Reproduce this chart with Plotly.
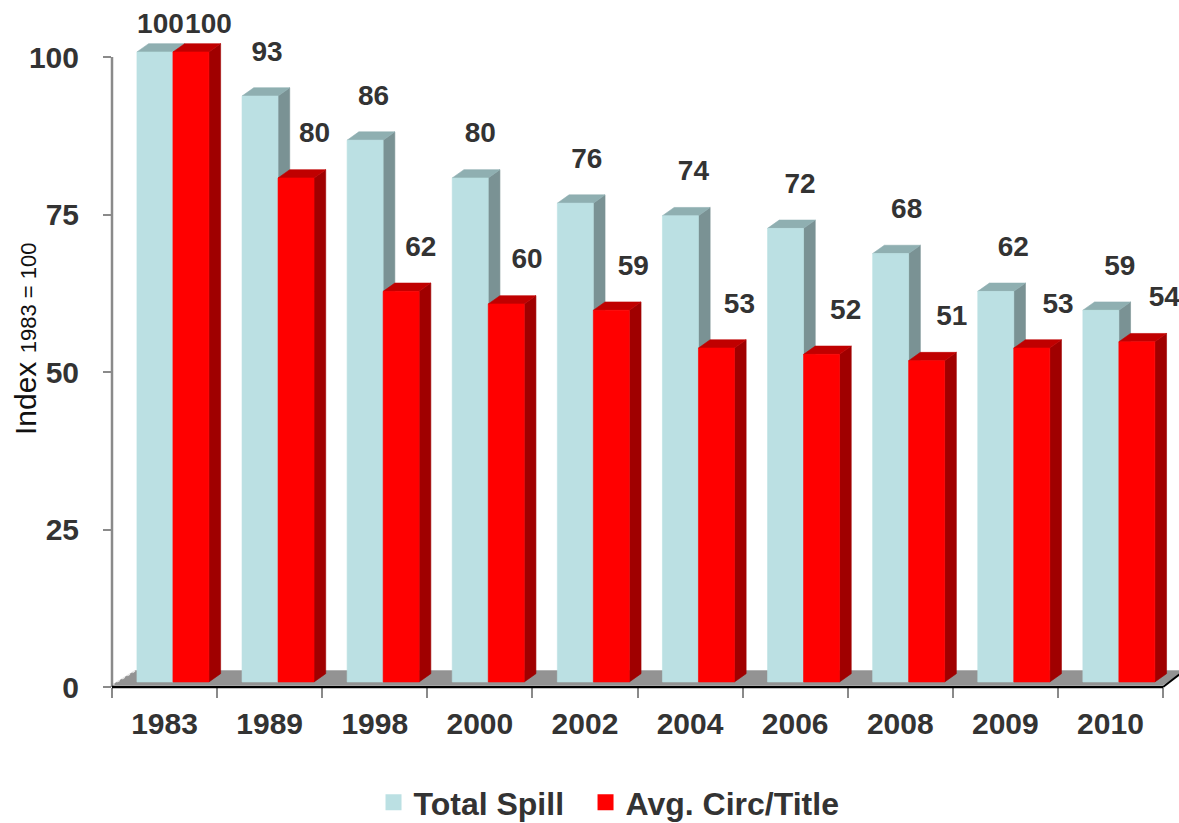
import plotly.graph_objects as go

# ---- data -------------------------------------------------------------
years = ["1983", "1989", "1998", "2000", "2002", "2004", "2006", "2008", "2009", "2010"]
total_spill = [100, 93, 86, 80, 76, 74, 72, 68, 62, 59]
avg_circ_title = [100, 80, 62, 60, 59, 53, 52, 51, 53, 54]
series_names = ["Total Spill", "Avg. Circ/Title"]
y_tick_values = [0, 25, 50, 75, 100]

# ---- styling / geometry ----------------------------------------------
FONT = "Liberation Sans, Arial, sans-serif"
TEXT_COLOR = "#333333"
AXIS_GRAY = "#8a8a8a"

# colours per series: front, top, side
PALETTE = [
    ("#bbe0e3", "#8fafb1", "#7a9294"),
    ("#ff0000", "#c00000", "#a00000"),
]

X_RANGE = [-0.5, 9.652]     # category units (1 unit = one year slot)
Y_RANGE = [0, 107.46]       # index units
BAR_W = 0.3425              # front-face width of each column
SERIES_OFFSET = [-0.0915, 0.251]
DEPTH_X, DEPTH_Y = 0.1113, 1.317   # oblique depth of a column
BASE = 0.8                  # front face sits a little behind the floor edge
FLOOR_DX, FLOOR_DY = 0.223, 2.3
FLOOR_FRONT = 0.3
LABEL_LIFT = 6.75
LABEL_CAP = 104.95
# label drift along the floor (perspective), per series: start, step
LABEL_SHIFT = [(0.0523, 0.01427), (0.1665, 0.01047)]
# legend entries sit side by side under the axis
LEGEND_X = [0.2451, 0.4438]
LEGEND_Y = -0.1705

series_values = [total_spill, avg_circ_title]
n = len(years)


def px(x):
    return (x - X_RANGE[0]) / (X_RANGE[1] - X_RANGE[0])


def py(y):
    return (y - Y_RANGE[0]) / (Y_RANGE[1] - Y_RANGE[0])


def polys(rects):
    xs, ys = [], []
    for pts in rects:
        for (a, b) in pts:
            xs.append(a)
            ys.append(b)
        xs.append(pts[0][0])
        ys.append(pts[0][1])
        xs.append(None)
        ys.append(None)
    return xs, ys


fig = go.Figure()

# floor slab
floor_pts = [
    (X_RANGE[0], FLOOR_FRONT),
    (n - 0.5, FLOOR_FRONT),
    (n - 0.5 + FLOOR_DX, FLOOR_FRONT + FLOOR_DY),
    (X_RANGE[0] + FLOOR_DX, FLOOR_FRONT + FLOOR_DY),
]
fx, fy = polys([floor_pts])
fig.add_trace(go.Scatter(x=fx, y=fy, fill="toself", mode="lines",
                         fillcolor="#939393", line=dict(width=0.5, color="#939393"),
                         hoverinfo="skip", showlegend=False))
fig.add_trace(go.Scatter(x=[X_RANGE[0], X_RANGE[0] + FLOOR_DX],
                         y=[FLOOR_FRONT, FLOOR_FRONT + FLOOR_DY],
                         mode="lines", line=dict(width=1.5, color="#e8e8e8", dash="dot"),
                         hoverinfo="skip", showlegend=False))

# 3-D columns: side, top, then front face for each series
for s, vals in enumerate(series_values):
    front_c, top_c, side_c = PALETTE[s]
    fronts, tops, sides = [], [], []
    for i, v in enumerate(vals):
        xl = i + SERIES_OFFSET[s] - BAR_W / 2
        xr = i + SERIES_OFFSET[s] + BAR_W / 2
        yb, yt = BASE, BASE + v
        fronts.append([(xl, yb), (xr, yb), (xr, yt), (xl, yt)])
        sides.append([(xr, yb), (xr + DEPTH_X, yb + DEPTH_Y),
                      (xr + DEPTH_X, yt + DEPTH_Y), (xr, yt)])
        tops.append([(xl, yt), (xr, yt), (xr + DEPTH_X, yt + DEPTH_Y),
                     (xl + DEPTH_X, yt + DEPTH_Y)])
    for faces, col in ((sides, side_c), (tops, top_c), (fronts, front_c)):
        xs, ys = polys(faces)
        fig.add_trace(go.Scatter(x=xs, y=ys, fill="toself", mode="lines",
                                 fillcolor=col, line=dict(width=0.6, color=col),
                                 hoverinfo="skip", showlegend=False))

# value labels
for s, vals in enumerate(series_values):
    a, b = LABEL_SHIFT[s]
    lx = [i + SERIES_OFFSET[s] + a + b * i for i in range(n)]
    ly = [min(v + BASE + LABEL_LIFT, LABEL_CAP) for v in vals]
    fig.add_trace(go.Scatter(x=lx, y=ly, mode="text", text=[str(v) for v in vals],
                             textposition="middle center", cliponaxis=False,
                             textfont=dict(family=FONT, size=28, color=TEXT_COLOR, weight="bold"),
                             hoverinfo="skip", showlegend=False))

# legend entries, one legend box each
legend_ids = ["legend", "legend2"]
for s, name in enumerate(series_names):
    fig.add_trace(go.Scatter(x=[None], y=[None], mode="markers", name=name,
                             legend=legend_ids[s],
                             marker=dict(symbol="square", size=16, color=PALETTE[s][0])))

shapes = [
    # value axis line (0..100)
    dict(type="line", xref="paper", yref="paper",
         x0=px(X_RANGE[0]), x1=px(X_RANGE[0]), y0=py(0), y1=py(max(y_tick_values)),
         line=dict(color=AXIS_GRAY, width=2.5)),
    # floor front edge and right edge
    dict(type="line", xref="paper", yref="paper",
         x0=px(X_RANGE[0]), x1=px(n - 0.5), y0=py(0), y1=py(0),
         line=dict(color="#000000", width=2.5)),
    dict(type="line", xref="paper", yref="paper",
         x0=px(n - 0.5), x1=px(n - 0.5 + FLOOR_DX), y0=py(0), y1=py(FLOOR_DY * 1.25),
         line=dict(color="#000000", width=2)),
]

fig.add_annotation(
    text="Index <span style='font-size:22px'>1983 = 100</span>",
    xref="paper", yref="paper", x=-0.0815, y=0.514,
    xanchor="center", yanchor="middle", textangle=-90, showarrow=False,
    font=dict(family=FONT, size=30, color="#111111"),
)

legend_style = dict(orientation="h", y=LEGEND_Y, xanchor="left", yanchor="middle",
                     font=dict(family=FONT, size=32, color=TEXT_COLOR, weight="bold"),
                     itemsizing="trace", bgcolor="rgba(0,0,0,0)")

fig.update_layout(
    width=1179, height=823,
    margin=dict(l=112, r=0, t=10, b=136, autoexpand=False),
    paper_bgcolor="white", plot_bgcolor="white",
    shapes=shapes,
    showlegend=True,
    legend=dict(x=LEGEND_X[0], **legend_style),
    legend2=dict(x=LEGEND_X[1], **legend_style),
    xaxis=dict(range=X_RANGE, tickmode="array", tickvals=list(range(n)), ticktext=years,
               ticks="", showgrid=False, zeroline=False, showline=False,
               tickfont=dict(family=FONT, size=30, color=TEXT_COLOR, weight="bold"),
               ticklabelstandoff=16,
               minor=dict(tickmode="array", tickvals=[i - 0.5 for i in range(n + 1)],
                          ticks="outside", ticklen=10, tickwidth=2, tickcolor=AXIS_GRAY,
                          showgrid=False)),
    yaxis=dict(range=Y_RANGE, tickmode="array", tickvals=y_tick_values,
               ticks="outside", ticklen=8, tickwidth=2, tickcolor=AXIS_GRAY,
               showgrid=False, zeroline=False, showline=False,
               tickfont=dict(family=FONT, size=30, color=TEXT_COLOR, weight="bold"),
               ticklabelstandoff=18),
)

fig.write_html("out.html")
